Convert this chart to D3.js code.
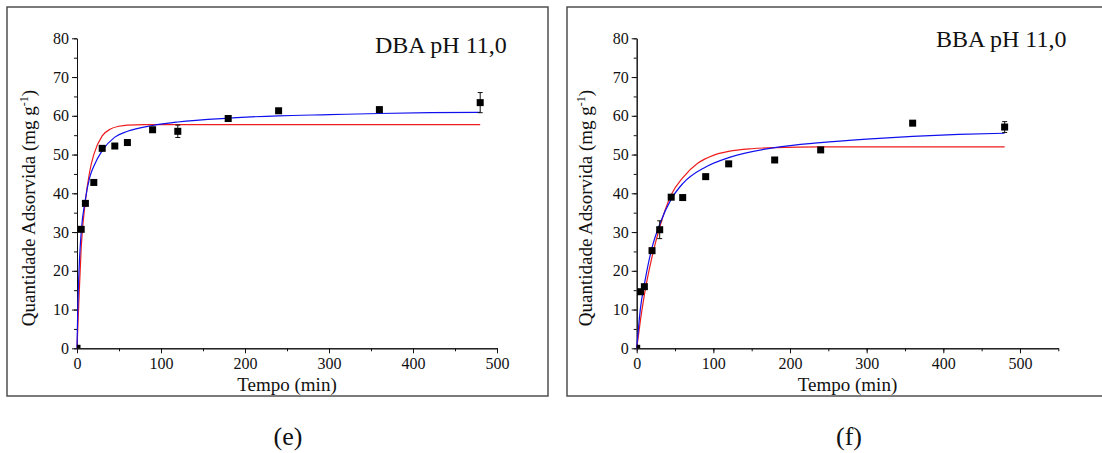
<!DOCTYPE html>
<html lang="en">
<head>
<meta charset="utf-8">
<script src="https://d3js.org/d3.v7.min.js"></script>
<style>
  body { margin: 0; background: #fff; }
</style>
</head>
<body>
<svg id="main" width="1102" height="453" font-family="'Liberation Serif', 'Times New Roman', serif"></svg>
<script>
// ---- data ----
// (e) DBA pH 11,0
const dbaTime  = [0, 5, 10, 20, 30, 45, 60, 90, 120, 180, 240, 360, 480];
const dbaQ     = [0, 30.7, 37.4, 42.8, 51.6, 52.2, 53.1, 56.4, 56.0, 59.3, 61.3, 61.6, 63.4];
const dbaErr   = [0, 0, 0, 0, 0, 0, 0, 0, 1.6, 0.5, 0, 0, 2.6];
const dbaRedT  = [0, 2, 5, 10, 15, 20, 30, 40, 50, 60, 80, 480];
const dbaRedQ  = [0, 11, 26, 38, 45.5, 50, 54.8, 56.6, 57.3, 57.6, 57.7, 57.7];
const dbaBlueT = [0, 1, 2, 3, 5, 10, 15, 20, 30, 45, 60, 90, 120, 180, 240, 300, 360, 420, 480];
const dbaBlueQ = [0, 11, 18, 23, 30, 38.5, 44, 47, 51, 54.5, 56, 57.5, 58.4, 59.4, 60, 60.3, 60.6, 60.8, 60.9];

// (f) BBA pH 11,0
const bbaTime  = [0, 5, 10, 20, 30, 45, 60, 90, 120, 180, 240, 360, 480];
const bbaQ     = [0, 14.6, 15.9, 25.2, 30.6, 39.0, 38.9, 44.3, 47.6, 48.6, 51.2, 58.1, 57.1];
const bbaErr   = [0, 0, 0, 0, 2.3, 0, 0, 0, 0, 0, 0, 0, 1.4];
const bbaRedT  = [0, 5, 10, 20, 30, 45, 60, 80, 100, 120, 150, 180, 240, 480];
const bbaRedQ  = [0, 7.4, 13.8, 23.6, 31.2, 39.6, 44.0, 47.8, 49.8, 50.8, 51.5, 51.8, 52.0, 52.0];
const bbaBlueT = [0, 5, 10, 20, 30, 45, 60, 90, 120, 180, 240, 300, 360, 420, 480];
const bbaBlueQ = [0, 10.5, 16.5, 26, 32, 38.5, 42.5, 46.8, 49.2, 51.8, 53.1, 54.0, 54.7, 55.2, 55.5];

const yTicks = [0, 10, 20, 30, 40, 50, 60, 70, 80];

const FONT = "'Liberation Serif', 'Times New Roman', serif";

const panels = [
  { id: "e", title: "DBA pH 11,0", frame: [7, 7, 541, 389],
    xr: [77, 497], xmax: 500, titleX: 375, titleY: 53, ylabX: 35, cap: "(e)", capX: 288,
    t: dbaTime, q: dbaQ, err: dbaErr, rt: dbaRedT, rq: dbaRedQ, bt: dbaBlueT, bq: dbaBlueQ },
  { id: "f", title: "BBA pH 11,0", frame: [567, 7, 560, 389],
    xr: [636.7, 1058.3], xmax: 550, titleX: 936, titleY: 47, ylabX: 592, cap: "(f)", capX: 849,
    t: bbaTime, q: bbaQ, err: bbaErr, rt: bbaRedT, rq: bbaRedQ, bt: bbaBlueT, bq: bbaBlueQ }
];

const svg = d3.select("svg#main");
svg.append("rect").attr("width", 1102).attr("height", 453).attr("fill", "#fff");

panels.forEach(p => {
  const x = d3.scaleLinear().domain([0, p.xmax]).range(p.xr);
  const y = d3.scaleLinear().domain([0, 80]).range([348.3, 38.3]);
  const g = svg.append("g");

  // frame
  g.append("rect")
    .attr("x", p.frame[0]).attr("y", p.frame[1])
    .attr("width", p.frame[2]).attr("height", p.frame[3])
    .attr("fill", "none").attr("stroke", "#444").attr("stroke-width", 1.4);

  // clip for plot area
  g.append("clipPath").attr("id", "clip" + p.id)
    .append("rect").attr("x", x(0)).attr("y", y(80))
    .attr("width", x(p.xmax) - x(0)).attr("height", y(0) - y(80));

  // x axis
  const xMinor = d3.range(0, p.xmax + 1, 50);
  const xMajor = d3.range(0, 501, 100);
  g.append("g").attr("transform", `translate(0,${y(0)})`)
    .call(d3.axisBottom(x).tickValues(xMinor).tickSize(3).tickFormat("").tickSizeOuter(0));
  const xa = g.append("g").attr("transform", `translate(0,${y(0)})`)
    .call(d3.axisBottom(x).tickValues(xMajor).tickSize(5).tickPadding(4).tickSizeOuter(0));
  xa.attr("font-family", FONT).attr("font-size", 16);

  // y axis
  g.append("g").attr("transform", `translate(${x(0)},0)`)
    .call(d3.axisLeft(y).tickValues(d3.range(0, 81, 5)).tickSize(3).tickFormat("").tickSizeOuter(0));
  const ya = g.append("g").attr("transform", `translate(${x(0)},0)`)
    .call(d3.axisLeft(y).tickValues(yTicks).tickSize(5).tickPadding(3).tickSizeOuter(0));
  ya.attr("font-family", FONT).attr("font-size", 16);

  g.selectAll(".domain, .tick line").attr("stroke", "#111");
  g.selectAll(".tick text").attr("fill", "#111");

  // axis titles
  g.append("text")
    .attr("x", (x(0) + x(p.xmax)) / 2).attr("y", 391)
    .attr("text-anchor", "middle").attr("font-family", FONT).attr("font-size", 19)
    .attr("fill", "#111")
    .text("Tempo (min)");

  const yl = g.append("text")
    .attr("transform", `translate(${p.ylabX},208) rotate(-90)`)
    .attr("text-anchor", "middle").attr("font-family", FONT).attr("font-size", 19)
    .attr("fill", "#111");
  yl.append("tspan").text("Quantidade Adsorvida (mg g");
  yl.append("tspan").attr("font-size", 12).attr("dy", -7).text("-1");
  yl.append("tspan").attr("dy", 7).text(")");

  // panel title
  g.append("text").attr("x", p.titleX).attr("y", p.titleY)
    .attr("font-family", FONT).attr("font-size", 24).attr("fill", "#111").text(p.title);

  // fitted curves
  const line = d3.line().x(d => x(d[0])).y(d => y(d[1])).curve(d3.curveMonotoneX);
  g.append("path").datum(p.rt.map((t, i) => [t, p.rq[i]]))
    .attr("d", line).attr("fill", "none").attr("stroke", "#ee1c1c").attr("stroke-width", 1.2);
  g.append("path").datum(p.bt.map((t, i) => [t, p.bq[i]]))
    .attr("d", line).attr("fill", "none").attr("stroke", "#1010ee").attr("stroke-width", 1.2);

  // error bars
  const pts = p.t.map((t, i) => ({ t: t, q: p.q[i], e: p.err[i] }));
  const eb = g.append("g").attr("stroke", "#111").attr("stroke-width", 1);
  pts.filter(d => d.e > 0).forEach(d => {
    eb.append("line").attr("x1", x(d.t)).attr("x2", x(d.t))
      .attr("y1", y(d.q - d.e)).attr("y2", y(d.q + d.e));
    [d.q - d.e, d.q + d.e].forEach(v => {
      eb.append("line").attr("x1", x(d.t) - 2.5).attr("x2", x(d.t) + 2.5)
        .attr("y1", y(v)).attr("y2", y(v));
    });
  });

  // markers
  g.append("g").attr("clip-path", `url(#clip${p.id})`)
    .selectAll("rect").data(pts).enter().append("rect")
    .attr("x", d => x(d.t) - 3.5).attr("y", d => y(d.q) - 3.5)
    .attr("width", 7).attr("height", 7).attr("fill", "#000");

  // caption
  svg.append("text").attr("x", p.capX).attr("y", 445)
    .attr("text-anchor", "middle").attr("font-family", FONT).attr("font-size", 26)
    .attr("fill", "#111").text(p.cap);
});
</script>
</body>
</html>
